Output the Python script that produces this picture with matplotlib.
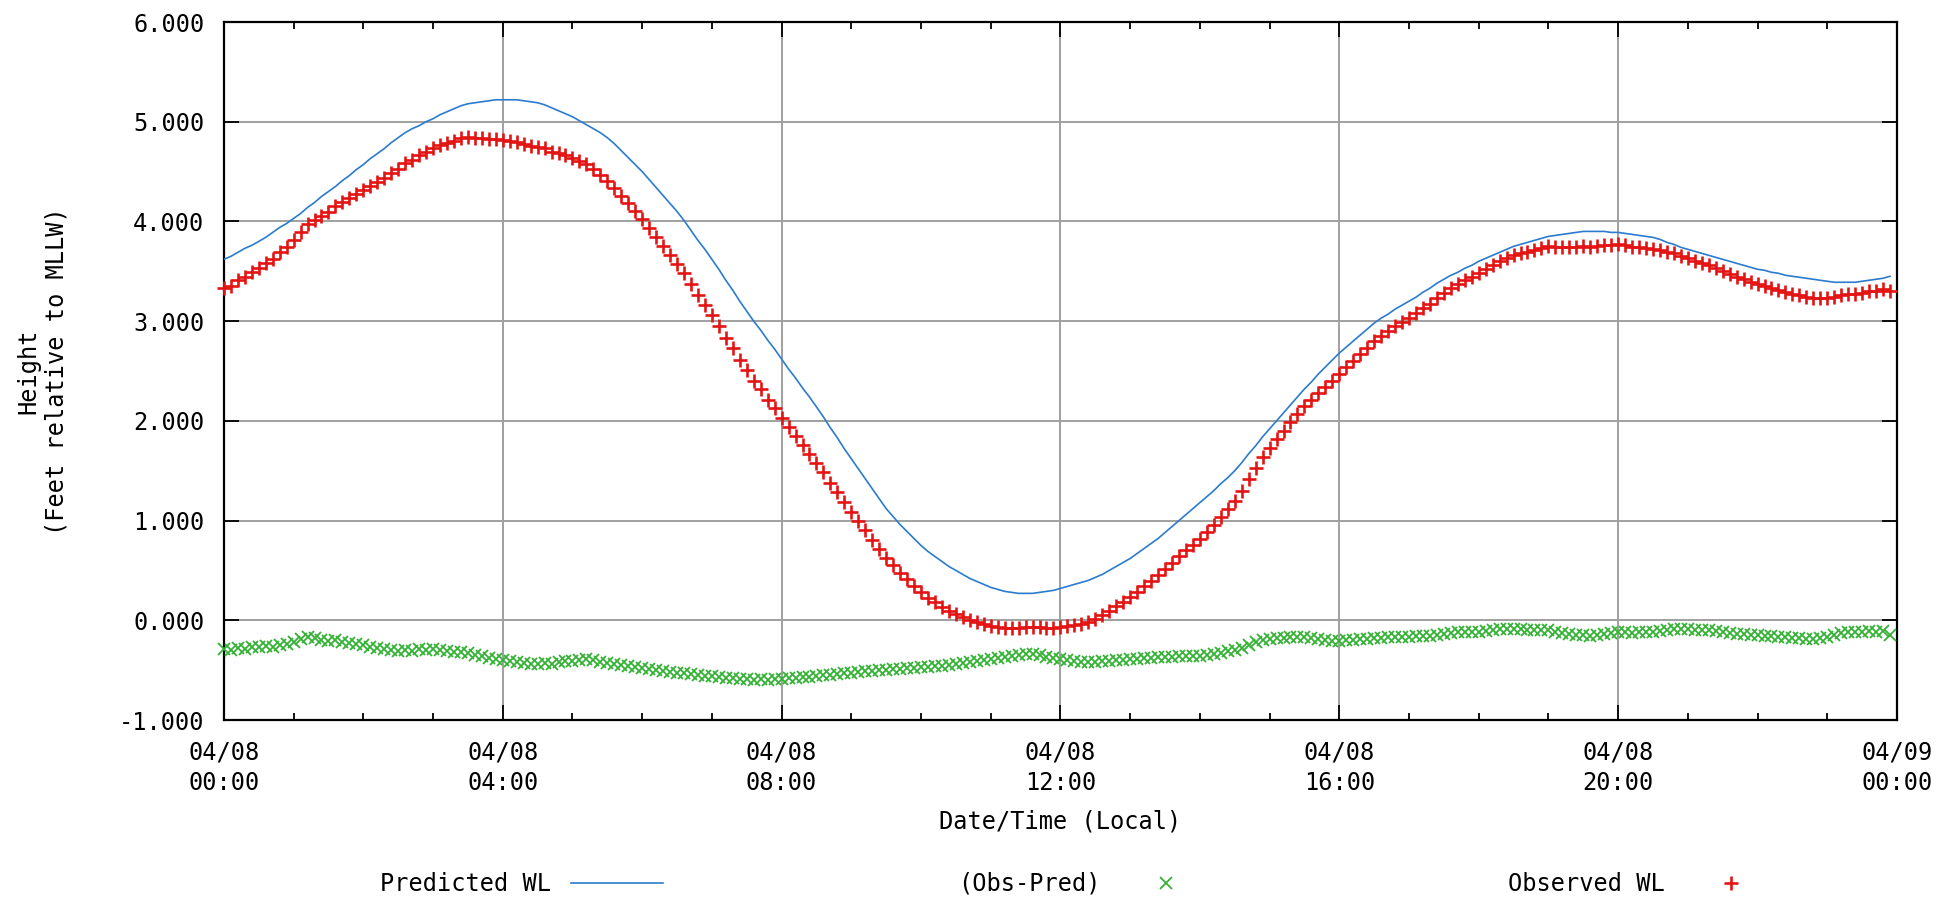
import numpy as np
import pandas as pd
import matplotlib
matplotlib.use("Agg")
import matplotlib.pyplot as plt
import matplotlib.dates as mdates
from matplotlib.ticker import MultipleLocator, FormatStrFormatter

# 6-minute readings, 04/08 00:00 .. 23:54 (one row per hour)
times = pd.date_range("2013-04-08 00:00", periods=240, freq="6min")

predicted = [
    3.62, 3.65, 3.69, 3.73, 3.76, 3.80, 3.84, 3.89, 3.94, 3.98,
    4.03, 4.08, 4.14, 4.19, 4.25, 4.30, 4.35, 4.41, 4.46, 4.52,
    4.57, 4.63, 4.68, 4.73, 4.79, 4.84, 4.89, 4.93, 4.96, 5.00,
    5.03, 5.07, 5.10, 5.13, 5.16, 5.18, 5.19, 5.20, 5.21, 5.22,
    5.22, 5.22, 5.22, 5.21, 5.20, 5.19, 5.17, 5.14, 5.11, 5.08,
    5.05, 5.01, 4.97, 4.93, 4.89, 4.84, 4.78, 4.71, 4.64, 4.57,
    4.50, 4.42, 4.34, 4.26, 4.18, 4.10, 4.01, 3.91, 3.81, 3.72,
    3.62, 3.52, 3.41, 3.31, 3.20, 3.10, 3.00, 2.91, 2.81, 2.72,
    2.62, 2.52, 2.43, 2.33, 2.24, 2.14, 2.04, 1.93, 1.83, 1.72,
    1.62, 1.52, 1.42, 1.32, 1.22, 1.12, 1.04, 0.96, 0.89, 0.82,
    0.75, 0.69, 0.64, 0.59, 0.54, 0.50, 0.46, 0.42, 0.39, 0.36,
    0.33, 0.31, 0.29, 0.28, 0.27, 0.27, 0.27, 0.28, 0.29, 0.30,
    0.32, 0.34, 0.36, 0.38, 0.40, 0.43, 0.46, 0.50, 0.54, 0.58,
    0.62, 0.67, 0.72, 0.77, 0.82, 0.88, 0.94, 1.00, 1.06, 1.12,
    1.18, 1.24, 1.30, 1.37, 1.43, 1.50, 1.58, 1.67, 1.75, 1.84,
    1.92, 2.00, 2.08, 2.16, 2.24, 2.32, 2.39, 2.47, 2.54, 2.61,
    2.68, 2.74, 2.80, 2.86, 2.92, 2.98, 3.03, 3.07, 3.12, 3.16,
    3.20, 3.24, 3.29, 3.33, 3.38, 3.42, 3.46, 3.49, 3.53, 3.56,
    3.60, 3.63, 3.66, 3.69, 3.72, 3.75, 3.77, 3.79, 3.81, 3.83,
    3.85, 3.86, 3.87, 3.88, 3.89, 3.90, 3.90, 3.90, 3.90, 3.89,
    3.89, 3.88, 3.87, 3.86, 3.85, 3.84, 3.82, 3.79, 3.77, 3.74,
    3.72, 3.70, 3.68, 3.66, 3.64, 3.62, 3.60, 3.58, 3.56, 3.54,
    3.52, 3.51, 3.49, 3.48, 3.46, 3.45, 3.44, 3.43, 3.42, 3.41,
    3.40, 3.39, 3.39, 3.39, 3.39, 3.40, 3.41, 3.42, 3.43, 3.45,
]

observed = [
    3.33, 3.35, 3.41, 3.44, 3.49, 3.53, 3.58, 3.62, 3.69, 3.74,
    3.81, 3.89, 3.97, 4.01, 4.05, 4.09, 4.15, 4.19, 4.23, 4.28,
    4.32, 4.36, 4.40, 4.44, 4.49, 4.53, 4.59, 4.62, 4.67, 4.70,
    4.74, 4.77, 4.79, 4.81, 4.84, 4.85, 4.84, 4.84, 4.83, 4.83,
    4.82, 4.81, 4.80, 4.78, 4.76, 4.75, 4.74, 4.70, 4.69, 4.67,
    4.64, 4.61, 4.58, 4.53, 4.47, 4.41, 4.34, 4.26, 4.18, 4.10,
    4.02, 3.93, 3.84, 3.75, 3.66, 3.57, 3.48, 3.37, 3.26, 3.16,
    3.06, 2.95, 2.83, 2.73, 2.61, 2.51, 2.40, 2.32, 2.21, 2.13,
    2.03, 1.94, 1.85, 1.76, 1.67, 1.58, 1.49, 1.38, 1.29, 1.19,
    1.09, 1.00, 0.91, 0.81, 0.72, 0.62, 0.55, 0.47, 0.41, 0.34,
    0.28, 0.22, 0.18, 0.13, 0.09, 0.06, 0.03, 0.00, -0.02, -0.04,
    -0.06, -0.07, -0.08, -0.08, -0.08, -0.07, -0.07, -0.07, -0.08, -0.08,
    -0.07, -0.06, -0.05, -0.04, -0.02, 0.01, 0.05, 0.09, 0.14, 0.18,
    0.23, 0.28, 0.34, 0.39, 0.45, 0.51, 0.57, 0.64, 0.70, 0.76,
    0.82, 0.89, 0.96, 1.04, 1.12, 1.20, 1.30, 1.42, 1.53, 1.64,
    1.73, 1.82, 1.90, 1.99, 2.07, 2.15, 2.21, 2.28, 2.34, 2.40,
    2.47, 2.54, 2.60, 2.67, 2.73, 2.80, 2.85, 2.90, 2.95, 2.99,
    3.03, 3.08, 3.13, 3.17, 3.23, 3.28, 3.33, 3.37, 3.41, 3.44,
    3.48, 3.52, 3.56, 3.60, 3.63, 3.66, 3.68, 3.69, 3.71, 3.73,
    3.75, 3.74, 3.74, 3.74, 3.74, 3.75, 3.74, 3.75, 3.76, 3.76,
    3.77, 3.76, 3.74, 3.74, 3.73, 3.72, 3.71, 3.69, 3.68, 3.65,
    3.63, 3.60, 3.58, 3.56, 3.53, 3.50, 3.47, 3.44, 3.42, 3.39,
    3.37, 3.35, 3.33, 3.31, 3.29, 3.27, 3.26, 3.24, 3.23, 3.23,
    3.23, 3.24, 3.26, 3.27, 3.27, 3.28, 3.30, 3.30, 3.32, 3.30,
]

obs_minus_pred = [
    -0.29, -0.30, -0.28, -0.29, -0.27, -0.27, -0.26, -0.27, -0.25, -0.24,
    -0.22, -0.19, -0.17, -0.18, -0.20, -0.21, -0.20, -0.22, -0.23, -0.24,
    -0.25, -0.27, -0.28, -0.29, -0.30, -0.31, -0.30, -0.31, -0.29, -0.30,
    -0.29, -0.30, -0.31, -0.32, -0.32, -0.33, -0.35, -0.36, -0.38, -0.39,
    -0.40, -0.41, -0.42, -0.43, -0.44, -0.44, -0.43, -0.44, -0.42, -0.41,
    -0.41, -0.40, -0.39, -0.40, -0.42, -0.43, -0.44, -0.45, -0.46, -0.47,
    -0.48, -0.49, -0.50, -0.51, -0.52, -0.53, -0.53, -0.54, -0.55, -0.56,
    -0.56, -0.57, -0.58, -0.58, -0.59, -0.59, -0.60, -0.59, -0.60, -0.59,
    -0.59, -0.58, -0.58, -0.57, -0.57, -0.56, -0.55, -0.55, -0.54, -0.53,
    -0.53, -0.52, -0.51, -0.51, -0.50, -0.50, -0.49, -0.49, -0.48, -0.48,
    -0.47, -0.47, -0.46, -0.46, -0.45, -0.44, -0.43, -0.42, -0.41, -0.40,
    -0.39, -0.38, -0.37, -0.36, -0.35, -0.34, -0.34, -0.35, -0.37, -0.38,
    -0.39, -0.40, -0.41, -0.42, -0.42, -0.42, -0.41, -0.41, -0.40, -0.40,
    -0.39, -0.39, -0.38, -0.38, -0.37, -0.37, -0.37, -0.36, -0.36, -0.36,
    -0.36, -0.35, -0.34, -0.33, -0.31, -0.30, -0.28, -0.25, -0.22, -0.20,
    -0.19, -0.18, -0.18, -0.17, -0.17, -0.17, -0.18, -0.19, -0.20, -0.21,
    -0.21, -0.20, -0.20, -0.19, -0.19, -0.18, -0.18, -0.17, -0.17, -0.17,
    -0.17, -0.16, -0.16, -0.16, -0.15, -0.14, -0.13, -0.12, -0.12, -0.12,
    -0.12, -0.11, -0.10, -0.09, -0.09, -0.09, -0.09, -0.10, -0.10, -0.10,
    -0.10, -0.12, -0.13, -0.14, -0.15, -0.15, -0.16, -0.15, -0.14, -0.13,
    -0.12, -0.12, -0.13, -0.12, -0.12, -0.12, -0.11, -0.10, -0.09, -0.09,
    -0.09, -0.10, -0.10, -0.10, -0.11, -0.12, -0.13, -0.14, -0.14, -0.15,
    -0.15, -0.16, -0.16, -0.17, -0.17, -0.18, -0.18, -0.19, -0.19, -0.18,
    -0.17, -0.15, -0.13, -0.12, -0.12, -0.12, -0.11, -0.12, -0.11, -0.15,
]

plt.rcParams['font.family'] = ['DejaVu Sans Mono']
plt.rcParams['font.size'] = 17

fig = plt.figure(figsize=(19.47, 8.98), dpi=100)
ax = fig.add_axes([0.1150, 0.1982, 0.8593, 0.7773])

ax.plot(times, predicted, color='#2b7bcf', lw=1.2, label='Predicted WL', zorder=3)
ax.plot(times, obs_minus_pred, ls='none', marker='x', ms=8, mew=1.3,
        color='#33b233', label='(Obs-Pred)', clip_on=False, zorder=4)
ax.plot(times, observed, ls='none', marker='+', ms=10, mew=1.9,
        color='#e31414', label='Observed WL', clip_on=False, zorder=5)

ax.set_xlim(pd.Timestamp("2013-04-08 00:00"), pd.Timestamp("2013-04-09 00:00"))
ax.set_ylim(-1, 6)

ax.xaxis.set_major_locator(mdates.HourLocator(byhour=range(0, 24, 4)))
ax.xaxis.set_minor_locator(mdates.HourLocator())
ax.xaxis.set_major_formatter(mdates.DateFormatter('%m/%d\n%H:%M'))
ax.yaxis.set_major_locator(MultipleLocator(1))
ax.yaxis.set_major_formatter(FormatStrFormatter('%.3f'))

ax.tick_params(which='both', direction='in', top=True, right=True,
               width=1.3, color='black', labelsize=17)
ax.tick_params(which='major', length=11)
ax.tick_params(which='minor', length=5)
ax.tick_params(axis='x', pad=15)
ax.tick_params(axis='y', pad=14)

ax.grid(True, which='major', color='#a0a0a0', lw=1.4)
ax.set_axisbelow(True)
for s in ax.spines.values():
    s.set_linewidth(1.6)
    s.set_color('black')

ax.set_ylabel("Height\n(Feet relative to MLLW)")
ax.yaxis.set_label_coords(-0.093, 0.5)
ax.set_xlabel("Date/Time (Local)")
ax.xaxis.set_label_coords(0.5, -0.128)

handles, labels = ax.get_legend_handles_labels()
fig.legend(handles, labels, loc='center', bbox_to_anchor=(0.5537, 0.0156),
           ncol=3, markerfirst=False, frameon=False, handlelength=3.9,
           handletextpad=0.85, columnspacing=12.5, borderpad=0, fontsize=17)

fig.canvas.draw()
for lbl in ax.get_xticklabels():
    lbl.set_linespacing(1.3)

fig.savefig('out.png', dpi=100)
